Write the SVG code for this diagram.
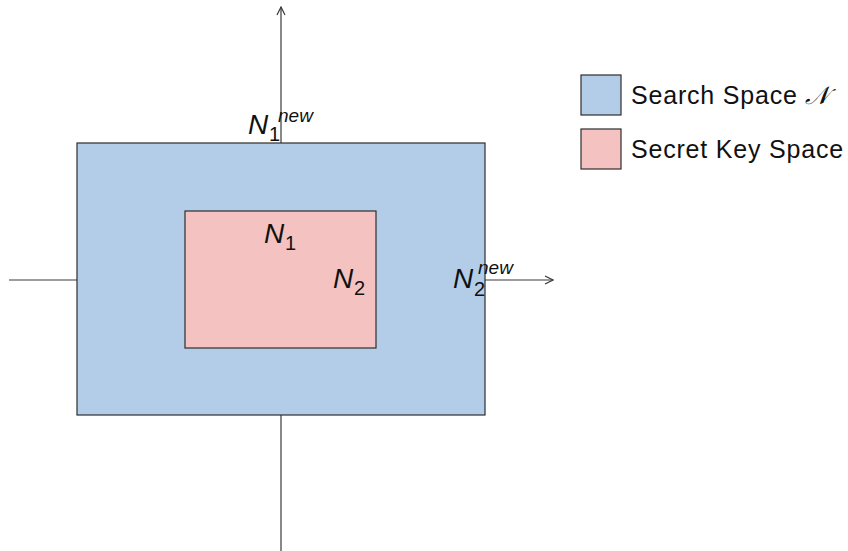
<svg xmlns="http://www.w3.org/2000/svg" width="848" height="551" viewBox="0 0 848 551">
  <style>
    .axis { stroke: #3a3a3a; stroke-width: 1.2; fill: none; }
    .box { stroke: #2e2e2e; stroke-width: 1.2; }
    .search { fill: #b3cde8; }
    .secret { fill: #f4c2c0; }
    .lbl { font-family: "Liberation Sans", "DejaVu Sans", sans-serif; fill: #111; }
    .math { font-style: italic; font-size: 28px; }
    .sub { font-style: normal; font-size: 20px; }
    .sup { font-style: italic; font-size: 19px; }
    .legend { font-size: 25px; letter-spacing: 0.8px; }
  </style>
  <defs>
    <marker id="arrow" viewBox="0 0 10 10" refX="9" refY="5" markerWidth="10" markerHeight="10" markerUnits="userSpaceOnUse" orient="auto">
      <path d="M1,1 L9,5 L1,9" fill="none" stroke="#3a3a3a" stroke-width="1.2"/>
    </marker>
  </defs>

  <!-- axes -->
  <g id="connectors">
    <line class="axis" x1="281" y1="551" x2="281" y2="7" marker-end="url(#arrow)"/>
    <line class="axis" x1="9" y1="280" x2="553" y2="280" marker-end="url(#arrow)"/>
  </g>

  <!-- search space -->
  <g id="search-space">
    <rect class="box search" x="77" y="143" width="408" height="272"/>
  </g>

  <!-- secret key space -->
  <g id="secret-space">
    <rect class="box secret" x="185" y="211" width="191" height="137"/>
  </g>

  <!-- boundary labels: N with subscript / superscript -->
  <g id="label-n1new">
    <text class="lbl math" x="248" y="134">N<tspan class="sub" x="269" y="141">1</tspan><tspan class="sup" x="278" y="122">new</tspan></text>
  </g>
  <g id="label-n1">
    <text class="lbl math" x="264" y="243">N<tspan class="sub" x="285" y="250">1</tspan></text>
  </g>
  <g id="label-n2">
    <text class="lbl math" x="333" y="288">N<tspan class="sub" x="354" y="295">2</tspan></text>
  </g>
  <g id="label-n2new">
    <text class="lbl math" x="453" y="288">N<tspan class="sub" x="474" y="296">2</tspan><tspan class="sup" x="478" y="274">new</tspan></text>
  </g>

  <!-- legend -->
  <g id="legend-search">
    <rect class="box search" x="581" y="75" width="40" height="40"/>
    <text class="lbl legend" x="631" y="104">Search Space <tspan font-family="DejaVu Sans, sans-serif" font-style="italic">𝒩</tspan></text>
  </g>
  <g id="legend-secret">
    <rect class="box secret" x="581" y="129" width="40" height="40"/>
    <text class="lbl legend" x="631" y="158">Secret Key Space</text>
  </g>
</svg>
